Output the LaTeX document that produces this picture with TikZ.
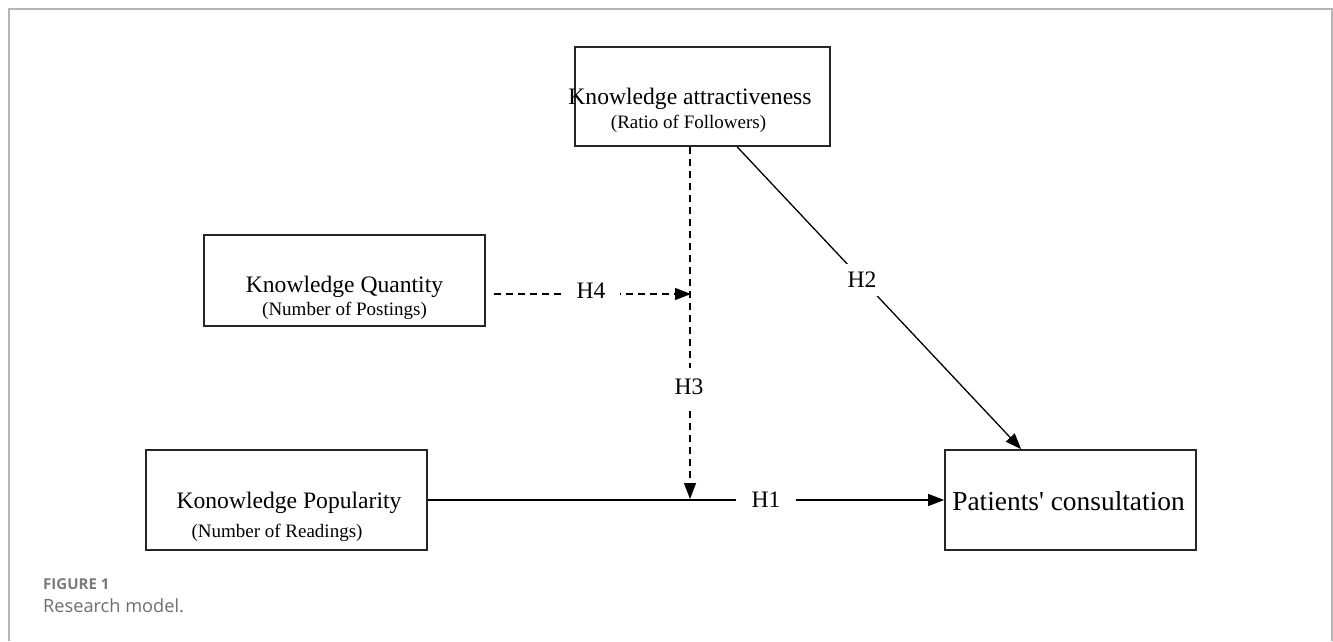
\documentclass[tikz,border=0pt]{standalone}
\usepackage{fontspec}
\setmainfont{Liberation Serif}
\newfontfamily\plainserif{Liberation Serif}[Ligatures=TeXOff]
\newfontfamily\capfont{Open Sans}
\usetikzlibrary{arrows.meta,calc}
\definecolor{framegray}{HTML}{B5B5B5}
\definecolor{capgray}{HTML}{7A7A7A}
\definecolor{capgrayb}{HTML}{6E6E6E}
\begin{document}
\begin{tikzpicture}[x=1pt,y=-1pt,
  box/.style={draw=black!85,line width=1.7pt,rectangle,inner sep=0pt},
  bigtxt/.style={font=\fontsize{23.6}{28}\selectfont,inner sep=0pt,anchor=base},
  smalltxt/.style={font=\fontsize{19}{23}\selectfont,inner sep=0pt,anchor=base},
  hlab/.style={font=\fontsize{23.6}{28}\selectfont,fill=white,inner ysep=11pt,inner xsep=15pt},
  conn/.style={line width=1.3pt,-{Triangle[length=16pt,width=12pt]}},
  dconn/.style={conn,dash pattern=on 7.5pt off 4.5pt},
  frameline/.style={draw=framegray,line width=1.8pt}
]
\useasboundingbox (0,0) rectangle (1333,641);
\draw[frameline] (9,641) -- (9,9) -- (1332,9) -- (1332,641);

% boxes
\node[box,minimum width=255pt,minimum height=99pt] (top) at (702.5,96.5) {};
\node[box,minimum width=281pt,minimum height=91pt] (qty) at (344.5,280.5) {};
\node[box,minimum width=281pt,minimum height=100pt] (pop) at (286.5,500) {};
\node[box,minimum width=251pt,minimum height=100pt] (pat) at (1070.5,500) {};

% box texts
\node[bigtxt] (topA) at (690,104) {Knowledge attractiveness};
\node[smalltxt] (topB) at (688.5,128) {(Ratio of Followers)};
\node[bigtxt] (qtyA) at (344.5,292) {Knowledge Quantity};
\node[smalltxt] (qtyB) at (344.5,315) {(Number of Postings)};
\node[bigtxt] (popA) at (289,508) {Konowledge Popularity};
\node[smalltxt] (popB) at (277,537) {(Number of Readings)};
\node[font=\plainserif\fontsize{27.4}{32}\selectfont,inner sep=0pt,anchor=base] (patA) at (1068.5,510) {Patients' consultation};

% junction points
\coordinate (j3) at (690,499);
\coordinate (j4) at (691,294);
\coordinate (s4) at ($(qty.east |- j4)+(8,0)$);
\coordinate (s2) at ($(top.south west)+(163,0)$);
\coordinate (e2) at ($(pat.north west)+(77,0)$);

% connectors
\draw[conn] (pop.east) -- (pat.west);
\draw[conn] (s2) -- (e2);
\draw[dconn] (top.south -| j3) -- (j3);
\draw[dconn] (s4) -- (j4);

% hypothesis labels
\node[hlab,inner xsep=15.5pt] (h1) at (766,500) {H1};
\node[hlab,inner sep=8pt] (h2) at (862,280) {H2};
\node[hlab,inner ysep=11.5pt,inner xsep=4pt] (h3) at (689,387) {H3};
\node[hlab,inner xsep=14.5pt,inner ysep=4pt] (h4) at (591,291) {H4};

% caption
\node[font=\capfont\bfseries\fontsize{15}{18}\selectfont,text=capgray,inner sep=0pt,anchor=base west] (fig) at (43,589) {FIGURE 1};
\node[font=\capfont\fontsize{18.2}{22}\selectfont,text=capgrayb,inner sep=0pt,anchor=base west] (cap) at (43,612) {Research model.};
\end{tikzpicture}
\end{document}
